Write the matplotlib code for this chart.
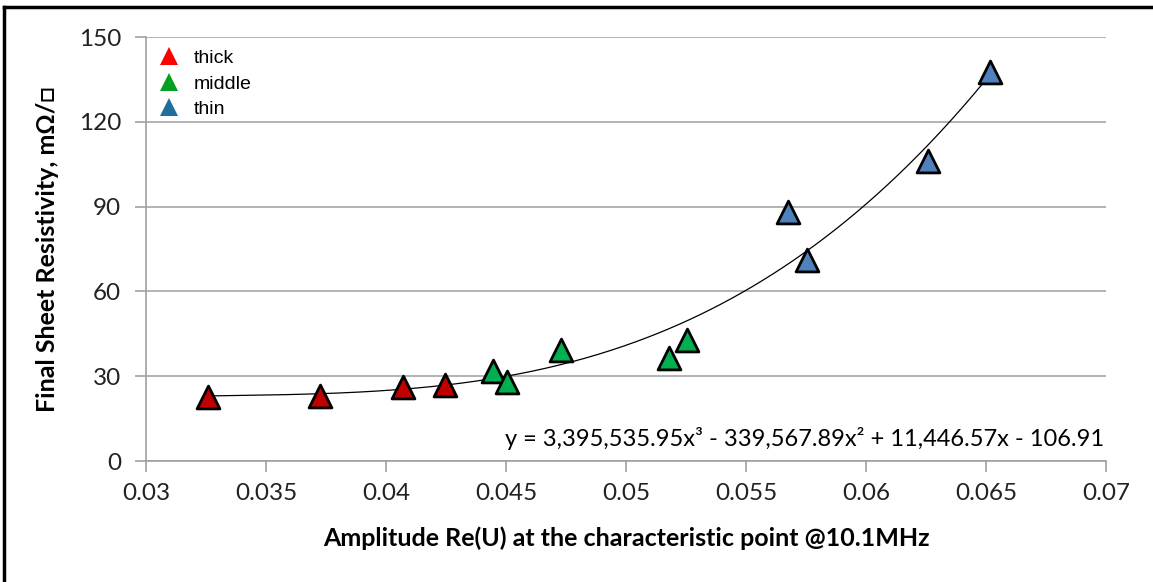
import numpy as np
import matplotlib.pyplot as plt
from matplotlib.lines import Line2D

# Data
thick_x = [0.03258, 0.03725, 0.04071, 0.04246]
thick_y = [22.6, 23.0, 26.2, 26.9]
middle_x = [0.04446, 0.04504, 0.04729, 0.05179, 0.05254]
middle_y = [31.8, 27.9, 39.3, 36.4, 42.8]
thin_x = [0.05675, 0.05754, 0.06258, 0.06517]
thin_y = [88.1, 71.1, 106.1, 137.6]

# cubic trendline coefficients (as printed on chart)
trend_coef = [3395535.95, -339567.89, 11446.57, -106.91]

x_ticks = [0.03, 0.035, 0.04, 0.045, 0.05, 0.055, 0.06, 0.065, 0.07]
x_tick_labels = ["0.03", "0.035", "0.04", "0.045", "0.05", "0.055", "0.06", "0.065", "0.07"]
y_ticks = [0, 30, 60, 90, 120, 150]

font = ["Lato", "DejaVu Sans"]

fig = plt.figure(figsize=(11.53, 5.82), dpi=100)
ax = fig.add_axes([146 / 1153, 1 - 461 / 582, 960 / 1153, 424 / 582])

# trendline
all_x = thick_x + middle_x + thin_x
xs = np.linspace(min(all_x), max(all_x), 300)
ax.plot(xs, np.polyval(trend_coef, xs), color="black", lw=0.9, zorder=2)

mk = dict(marker="^", s=270, edgecolors="black", linewidths=2, zorder=3)
ax.scatter(thick_x, thick_y, color="#C00000", **mk)
ax.scatter(middle_x, middle_y, color="#00B050", **mk)
ax.scatter(thin_x, thin_y, color="#4F81BD", **mk)

ax.set_xlim(0.03, 0.07)
ax.set_ylim(0, 150)
ax.set_xticks(x_ticks)
ax.set_xticklabels(x_tick_labels)
ax.set_yticks(y_ticks)
ax.grid(axis="y", color="#A6A6A6", lw=1.2)
ax.set_axisbelow(True)

for s in ["top", "right"]:
    ax.spines[s].set_visible(False)
for s in ["left", "bottom"]:
    ax.spines[s].set_color("#A0A0A0")
    ax.spines[s].set_linewidth(1.2)
ax.tick_params(axis="both", direction="out", length=8, width=1.2, color="#A0A0A0",
               labelsize=17.5, labelcolor="#222222")
ax.tick_params(axis="x", pad=8)
ax.tick_params(axis="y", pad=10)
for lab in ax.get_xticklabels() + ax.get_yticklabels():
    lab.set_family(font)

ax.set_xlabel("Amplitude Re(U) at the characteristic point @10.1MHz",
              fontsize=18, fontweight="bold", family=font, labelpad=16)
ax.set_ylabel("Final Sheet Resistivity, mΩ/□", fontsize=18, fontweight="bold",
              family=font, labelpad=14)

ax.text(0.9985, 0.025, "y = 3,395,535.95x³ - 339,567.89x² + 11,446.57x - 106.91",
        transform=ax.transAxes, ha="right", va="bottom", fontsize=17, family=font)

handles = [Line2D([], [], marker="^", ls="", color=c, markersize=13, markeredgewidth=0)
           for c in ["#FF0000", "#00A020", "#1F6E9C"]]
ax.legend(handles, ["thick", "middle", "thin"], loc="upper left", frameon=False,
          prop={"family": "Liberation Sans", "size": 14}, handlelength=1.0,
          handletextpad=0.75, labelspacing=0.4, borderaxespad=0, borderpad=0.3,
          bbox_to_anchor=(0.008, 0.984))

# outer frame (left and top edges)
fig.add_artist(Line2D([4 / 1153, 4 / 1153], [0, 1 - 7 / 582], color="black", lw=2.5))
fig.add_artist(Line2D([4 / 1153, 1], [1 - 7 / 582, 1 - 7 / 582], color="black", lw=2.5))

plt.savefig("out.png", dpi=100)
plt.close()
